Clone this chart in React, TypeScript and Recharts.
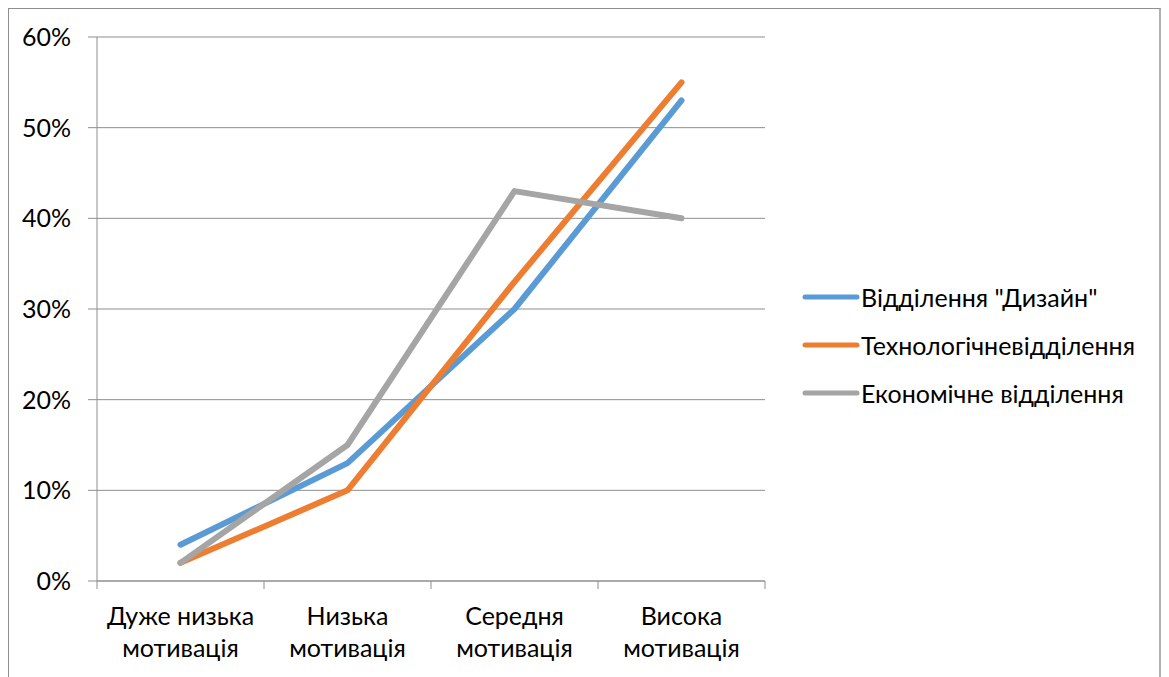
import React from 'react';
import { LineChart, Line, XAxis, YAxis, CartesianGrid } from 'recharts';

const categories = ['Дуже низька\nмотивація', 'Низька\nмотивація', 'Середня\nмотивація', 'Висока\nмотивація'];
const designValues = [0.04, 0.13, 0.30, 0.53];
const techValues = [0.02, 0.10, 0.33, 0.55];
const econValues = [0.02, 0.15, 0.43, 0.40];
const seriesNames = ['Відділення "Дизайн"', 'Технологічневідділення', 'Економічне відділення'];
const seriesColors = ['#5B9BD5', '#ED7D31', '#A5A5A5'];
const yTicks = [0, 0.1, 0.2, 0.3, 0.4, 0.5, 0.6];
const xTicks = [0, 0.5, 1, 1.5, 2, 2.5, 3, 3.5, 4];

const data = categories.map((c, i) => ({
  idx: i + 0.5,
  design: designValues[i],
  tech: techValues[i],
  econ: econValues[i],
}));

const keys = ['design', 'tech', 'econ'];
const FONT = 'Lato, "Noto Sans", sans-serif';
const FS = 25;
const AXIS = '#8e8e8e';

const CatTick = (props: any) => {
  const { x, y, payload } = props;
  const v = Number(payload.value);
  if (Number.isInteger(v)) {
    return <line x1={x} x2={x} y1={y} y2={y + 8} stroke={AXIS} strokeWidth={1} />;
  }
  const label = categories[Math.floor(v)] || '';
  const lines = label.split('\n');
  return (
    <text x={x} y={y} textAnchor="middle" fill="#000" fontSize={FS} fontFamily={FONT}>
      {lines.map((l, i) => (
        <tspan key={i} x={x} y={y + 44 + i * 32}>{l}</tspan>
      ))}
    </text>
  );
};

export default function App() {
  return (
    <div
      style={{
        width: 1150,
        height: 680,
        borderTop: '1px solid #8e8e8e',
        borderLeft: '1px solid #8e8e8e',
        borderRight: '3px solid #b0b0b0',
        background: '#fff',
        fontFamily: FONT,
        position: 'relative',
      }}
    >
      <LineChart
        width={1150}
        height={668}
        data={data}
        margin={{ top: 28, right: 394, left: 0, bottom: 6 }}
      >
        <CartesianGrid vertical={false} stroke={AXIS} strokeWidth={1} />
        <XAxis
          type="number"
          dataKey="idx"
          domain={[0, 4]}
          ticks={xTicks}
          interval={0}
          height={90}
          axisLine={{ stroke: AXIS }}
          tickLine={false}
          tickSize={0}
          tickMargin={0}
          tick={CatTick}
        />
        <YAxis
          width={88}
          domain={[0, 0.6]}
          ticks={yTicks}
          tickFormatter={(v: number) => `${Math.round(v * 100)}%`}
          axisLine={{ stroke: AXIS }}
          tickLine={{ stroke: AXIS }}
          tickSize={9}
          tickMargin={17}
          tick={{ fill: '#000', fontSize: FS, fontFamily: FONT }}
        />
        {keys.map((k, i) => (
          <Line
            key={k}
            type="linear"
            dataKey={k}
            name={seriesNames[i]}
            stroke={seriesColors[i]}
            strokeWidth={6}
            strokeLinecap="round"
            strokeLinejoin="round"
            dot={false}
            activeDot={false}
            isAnimationActive={false}
          />
        ))}
      </LineChart>
      <div
        style={{
          position: 'absolute',
          left: 792,
          top: 264,
          fontFamily: FONT,
          fontSize: FS,
          color: '#000',
        }}
      >
        {seriesNames.map((n, i) => (
          <div key={i} style={{ display: 'flex', alignItems: 'center', height: 48 }}>
            <svg width={60} height={8} style={{ display: 'block' }}>
              <line x1={4} y1={4} x2={56} y2={4} stroke={seriesColors[i]} strokeWidth={5} strokeLinecap="round" />
            </svg>
            <span style={{ marginLeft: 0, whiteSpace: 'nowrap' }}>{n}</span>
          </div>
        ))}
      </div>
    </div>
  );
}
